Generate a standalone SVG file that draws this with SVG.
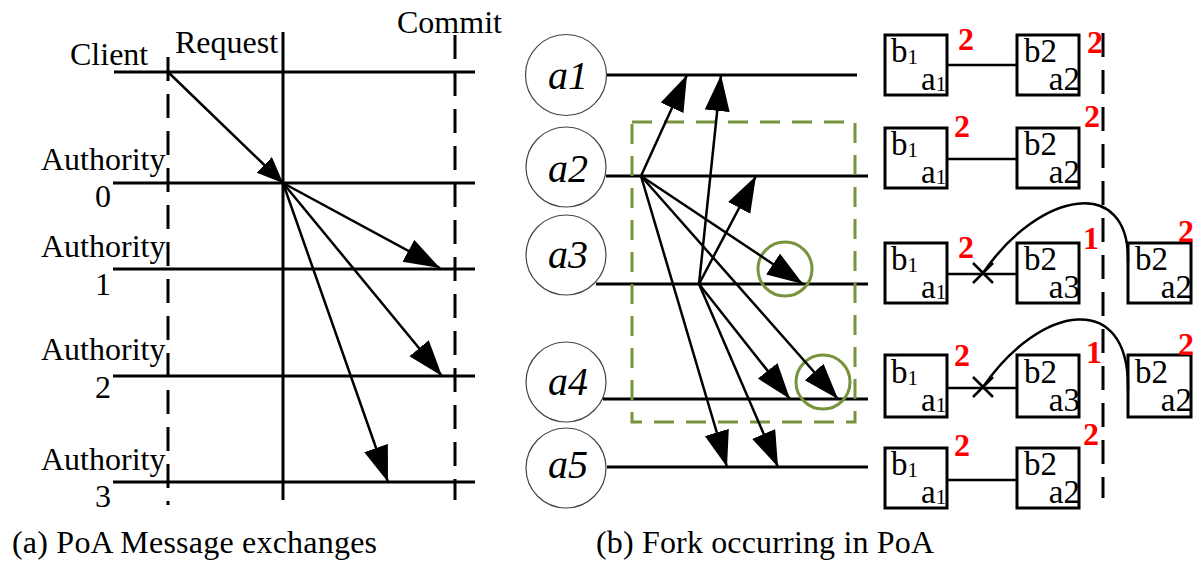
<svg xmlns="http://www.w3.org/2000/svg" width="1203" height="565" viewBox="0 0 1203 565">
<style>
.t{font-family:"Liberation Serif","Times New Roman",serif;font-size:32px;fill:#000}
.it{font-family:"Liberation Serif","Times New Roman",serif;font-style:italic;font-size:40px;fill:#000}
.bt{font-family:"Liberation Serif","Times New Roman",serif;font-size:33px;fill:#000}
.sub{font-size:21px}
.red{font-family:"Liberation Serif","Times New Roman",serif;font-weight:bold;font-size:32px;fill:#ff0000}
.ln{stroke:#000;stroke-width:3;fill:none}
.ar{stroke:#000;stroke-width:2.5;fill:none;marker-end:url(#ah)}
.ds{stroke:#000;stroke-width:3;fill:none;stroke-dasharray:24 13}
.box{fill:#fff;stroke:#000;stroke-width:3}
.node{fill:#fff;stroke:#444;stroke-width:1.2}
.grn{fill:none;stroke:#77933c;stroke-width:3}
</style>
<defs>
<marker id="ah" markerUnits="userSpaceOnUse" markerWidth="40" markerHeight="28" refX="36" refY="12.5" orient="auto"><path d="M0,0 L36,12.5 L0,25 z" fill="#000"/></marker>
<marker id="ahs" markerUnits="userSpaceOnUse" markerWidth="30" markerHeight="26" refX="26" refY="11" orient="auto"><path d="M0,0 L26,11 L0,22 z" fill="#000"/></marker>
</defs>
<rect width="1203" height="565" fill="#fff"/>

<!-- Part (a) -->
<g id="a-timelines">
<line class="ln" x1="114" y1="72" x2="475" y2="72"/>
<line class="ln" x1="113" y1="183" x2="475" y2="183"/>
<line class="ln" x1="113" y1="269" x2="475" y2="269"/>
<line class="ln" x1="113" y1="376" x2="475" y2="376"/>
<line class="ln" x1="113" y1="482" x2="475" y2="482"/>
<line class="ds" x1="168" y1="57" x2="168" y2="505"/>
<line class="ln" x1="283" y1="32" x2="283" y2="500"/>
<line class="ds" x1="455" y1="35" x2="455" y2="500"/>
</g>
<g id="a-labels">
<text class="t" x="70" y="65">Client</text>
<text class="t" x="175" y="53">Request</text>
<text class="t" x="397" y="33">Commit</text>
<text class="t" x="41" y="170">Authority</text>
<text class="t" x="103" y="207" text-anchor="middle">0</text>
<text class="t" x="41" y="257">Authority</text>
<text class="t" x="103" y="295" text-anchor="middle">1</text>
<text class="t" x="41" y="360">Authority</text>
<text class="t" x="103" y="398" text-anchor="middle">2</text>
<text class="t" x="41" y="470">Authority</text>
<text class="t" x="103" y="507" text-anchor="middle">3</text>
<text class="t" x="12" y="553" textLength="365">(a) PoA Message exchanges</text>
</g>
<g id="a-connectors">
<line x1="168" y1="72" x2="283" y2="183" stroke="#000" stroke-width="2.5" marker-end="url(#ahs)"/>
<line class="ar" x1="283" y1="183" x2="440" y2="268"/>
<line class="ar" x1="283" y1="183" x2="442" y2="376"/>
<line class="ar" x1="283" y1="183" x2="388" y2="482"/>
</g>

<!-- Part (b) -->
<g id="node-a1"><circle class="node" cx="566" cy="75" r="40.5"/><text class="it" x="568" y="89" text-anchor="middle">a1</text></g>
<g id="node-a2"><circle class="node" cx="566" cy="167" r="40"/><text class="it" x="568" y="182" text-anchor="middle">a2</text></g>
<g id="node-a3"><circle class="node" cx="566" cy="255" r="40"/><text class="it" x="568" y="268" text-anchor="middle">a3</text></g>
<g id="node-a4"><circle class="node" cx="566" cy="382" r="40"/><text class="it" x="568" y="395" text-anchor="middle">a4</text></g>
<g id="node-a5"><circle class="node" cx="566" cy="468" r="40"/><text class="it" x="568" y="478" text-anchor="middle">a5</text></g>

<g id="b-timelines">
<line class="ln" x1="607" y1="75" x2="857" y2="75"/>
<line class="ln" x1="606" y1="176" x2="868" y2="176"/>
<line class="ln" x1="596" y1="284" x2="868" y2="284"/>
<line class="ln" x1="603" y1="399" x2="868" y2="399"/>
<line class="ln" x1="607" y1="467" x2="868" y2="467"/>
</g>
<g id="fork-region">
<rect class="grn" x="632" y="122" width="223" height="300" stroke-dasharray="20 12"/>
<circle class="grn" cx="785" cy="269" r="27"/>
<circle class="grn" cx="823" cy="382" r="27"/>
</g>
<g id="b-connectors">
<line class="ar" x1="641" y1="176" x2="687" y2="75"/>
<line class="ar" x1="641" y1="176" x2="803" y2="284"/>
<line class="ar" x1="641" y1="176" x2="838" y2="399"/>
<line class="ar" x1="641" y1="176" x2="727" y2="467"/>
<line class="ar" x1="699" y1="284" x2="721" y2="75"/>
<line class="ar" x1="699" y1="284" x2="756" y2="176"/>
<line class="ar" x1="699" y1="284" x2="790" y2="399"/>
<line class="ar" x1="699" y1="284" x2="778" y2="467"/>
</g>

<g id="commit-line"><line class="ds" x1="1103" y1="33" x2="1103" y2="498" stroke-dasharray="25 12"/></g>

<g id="chain-a1">
<line x1="947" y1="65" x2="1017" y2="65" stroke="#000" stroke-width="2.5"/>
<rect class="box" x="885" y="35" width="62" height="60"/>
<text class="bt" x="891" y="62">b<tspan class="sub" dy="2">1</tspan></text>
<text class="bt" x="921" y="90">a<tspan class="sub" dy="1">1</tspan></text>
<rect class="box" x="1017" y="35" width="62" height="60"/>
<text class="bt" x="1024" y="62">b2</text>
<text class="bt" x="1080" y="90" text-anchor="end">a2</text>
<text class="red" x="958" y="50">2</text>
<text class="red" x="1087" y="53">2</text>
</g>
<g id="chain-a2">
<line x1="947" y1="159" x2="1017" y2="159" stroke="#000" stroke-width="2.5"/>
<rect class="box" x="885" y="128" width="62" height="60"/>
<text class="bt" x="891" y="155">b<tspan class="sub" dy="2">1</tspan></text>
<text class="bt" x="921" y="183">a<tspan class="sub" dy="1">1</tspan></text>
<rect class="box" x="1017" y="128" width="62" height="60"/>
<text class="bt" x="1024" y="155">b2</text>
<text class="bt" x="1080" y="183" text-anchor="end">a2</text>
<text class="red" x="954" y="137">2</text>
<text class="red" x="1084" y="127">2</text>
</g>
<g id="chain-a3">
<line x1="947" y1="274" x2="1017" y2="274" stroke="#000" stroke-width="2.5"/>
<rect class="box" x="885" y="243" width="62" height="60"/>
<text class="bt" x="891" y="270">b<tspan class="sub" dy="2">1</tspan></text>
<text class="bt" x="921" y="298">a<tspan class="sub" dy="1">1</tspan></text>
<rect class="box" x="1017" y="243" width="62" height="60"/>
<text class="bt" x="1024" y="270">b2</text>
<text class="bt" x="1080" y="298" text-anchor="end">a3</text>
<rect class="box" x="1128" y="243" width="63" height="60"/>
<text class="bt" x="1135" y="270">b2</text>
<text class="bt" x="1192" y="298" text-anchor="end">a2</text>
<path d="M973,263 L993,283 M973,283 L993,263" stroke="#000" stroke-width="2.5" fill="none"/>
<path d="M983,273 C1040,190 1130,175 1128,262" stroke="#000" stroke-width="2.5" fill="none"/>
<text class="red" x="958" y="258">2</text>
<text class="red" x="1083" y="249">1</text>
<text class="red" x="1178" y="242">2</text>
</g>
<g id="chain-a4">
<line x1="947" y1="388" x2="1017" y2="388" stroke="#000" stroke-width="2.5"/>
<rect class="box" x="885" y="355" width="62" height="62"/>
<text class="bt" x="891" y="383">b<tspan class="sub" dy="2">1</tspan></text>
<text class="bt" x="921" y="411">a<tspan class="sub" dy="1">1</tspan></text>
<rect class="box" x="1017" y="355" width="62" height="62"/>
<text class="bt" x="1024" y="383">b2</text>
<text class="bt" x="1080" y="411" text-anchor="end">a3</text>
<rect class="box" x="1128" y="355" width="63" height="62"/>
<text class="bt" x="1135" y="383">b2</text>
<text class="bt" x="1192" y="411" text-anchor="end">a2</text>
<path d="M973,377 L993,397 M973,397 L993,377" stroke="#000" stroke-width="2.5" fill="none"/>
<path d="M983,387 C1040,304 1130,289 1128,390" stroke="#000" stroke-width="2.5" fill="none"/>
<text class="red" x="954" y="366">2</text>
<text class="red" x="1086" y="363">1</text>
<text class="red" x="1178" y="355">2</text>
</g>
<g id="chain-a5">
<line x1="947" y1="480" x2="1017" y2="480" stroke="#000" stroke-width="2.5"/>
<rect class="box" x="885" y="448" width="62" height="60"/>
<text class="bt" x="891" y="475">b<tspan class="sub" dy="2">1</tspan></text>
<text class="bt" x="921" y="503">a<tspan class="sub" dy="1">1</tspan></text>
<rect class="box" x="1017" y="448" width="62" height="60"/>
<text class="bt" x="1024" y="475">b2</text>
<text class="bt" x="1080" y="503" text-anchor="end">a2</text>
<text class="red" x="954" y="456">2</text>
<text class="red" x="1083" y="445">2</text>
</g>
<text class="t" x="596" y="553" textLength="338">(b) Fork occurring in PoA</text>
</svg>
